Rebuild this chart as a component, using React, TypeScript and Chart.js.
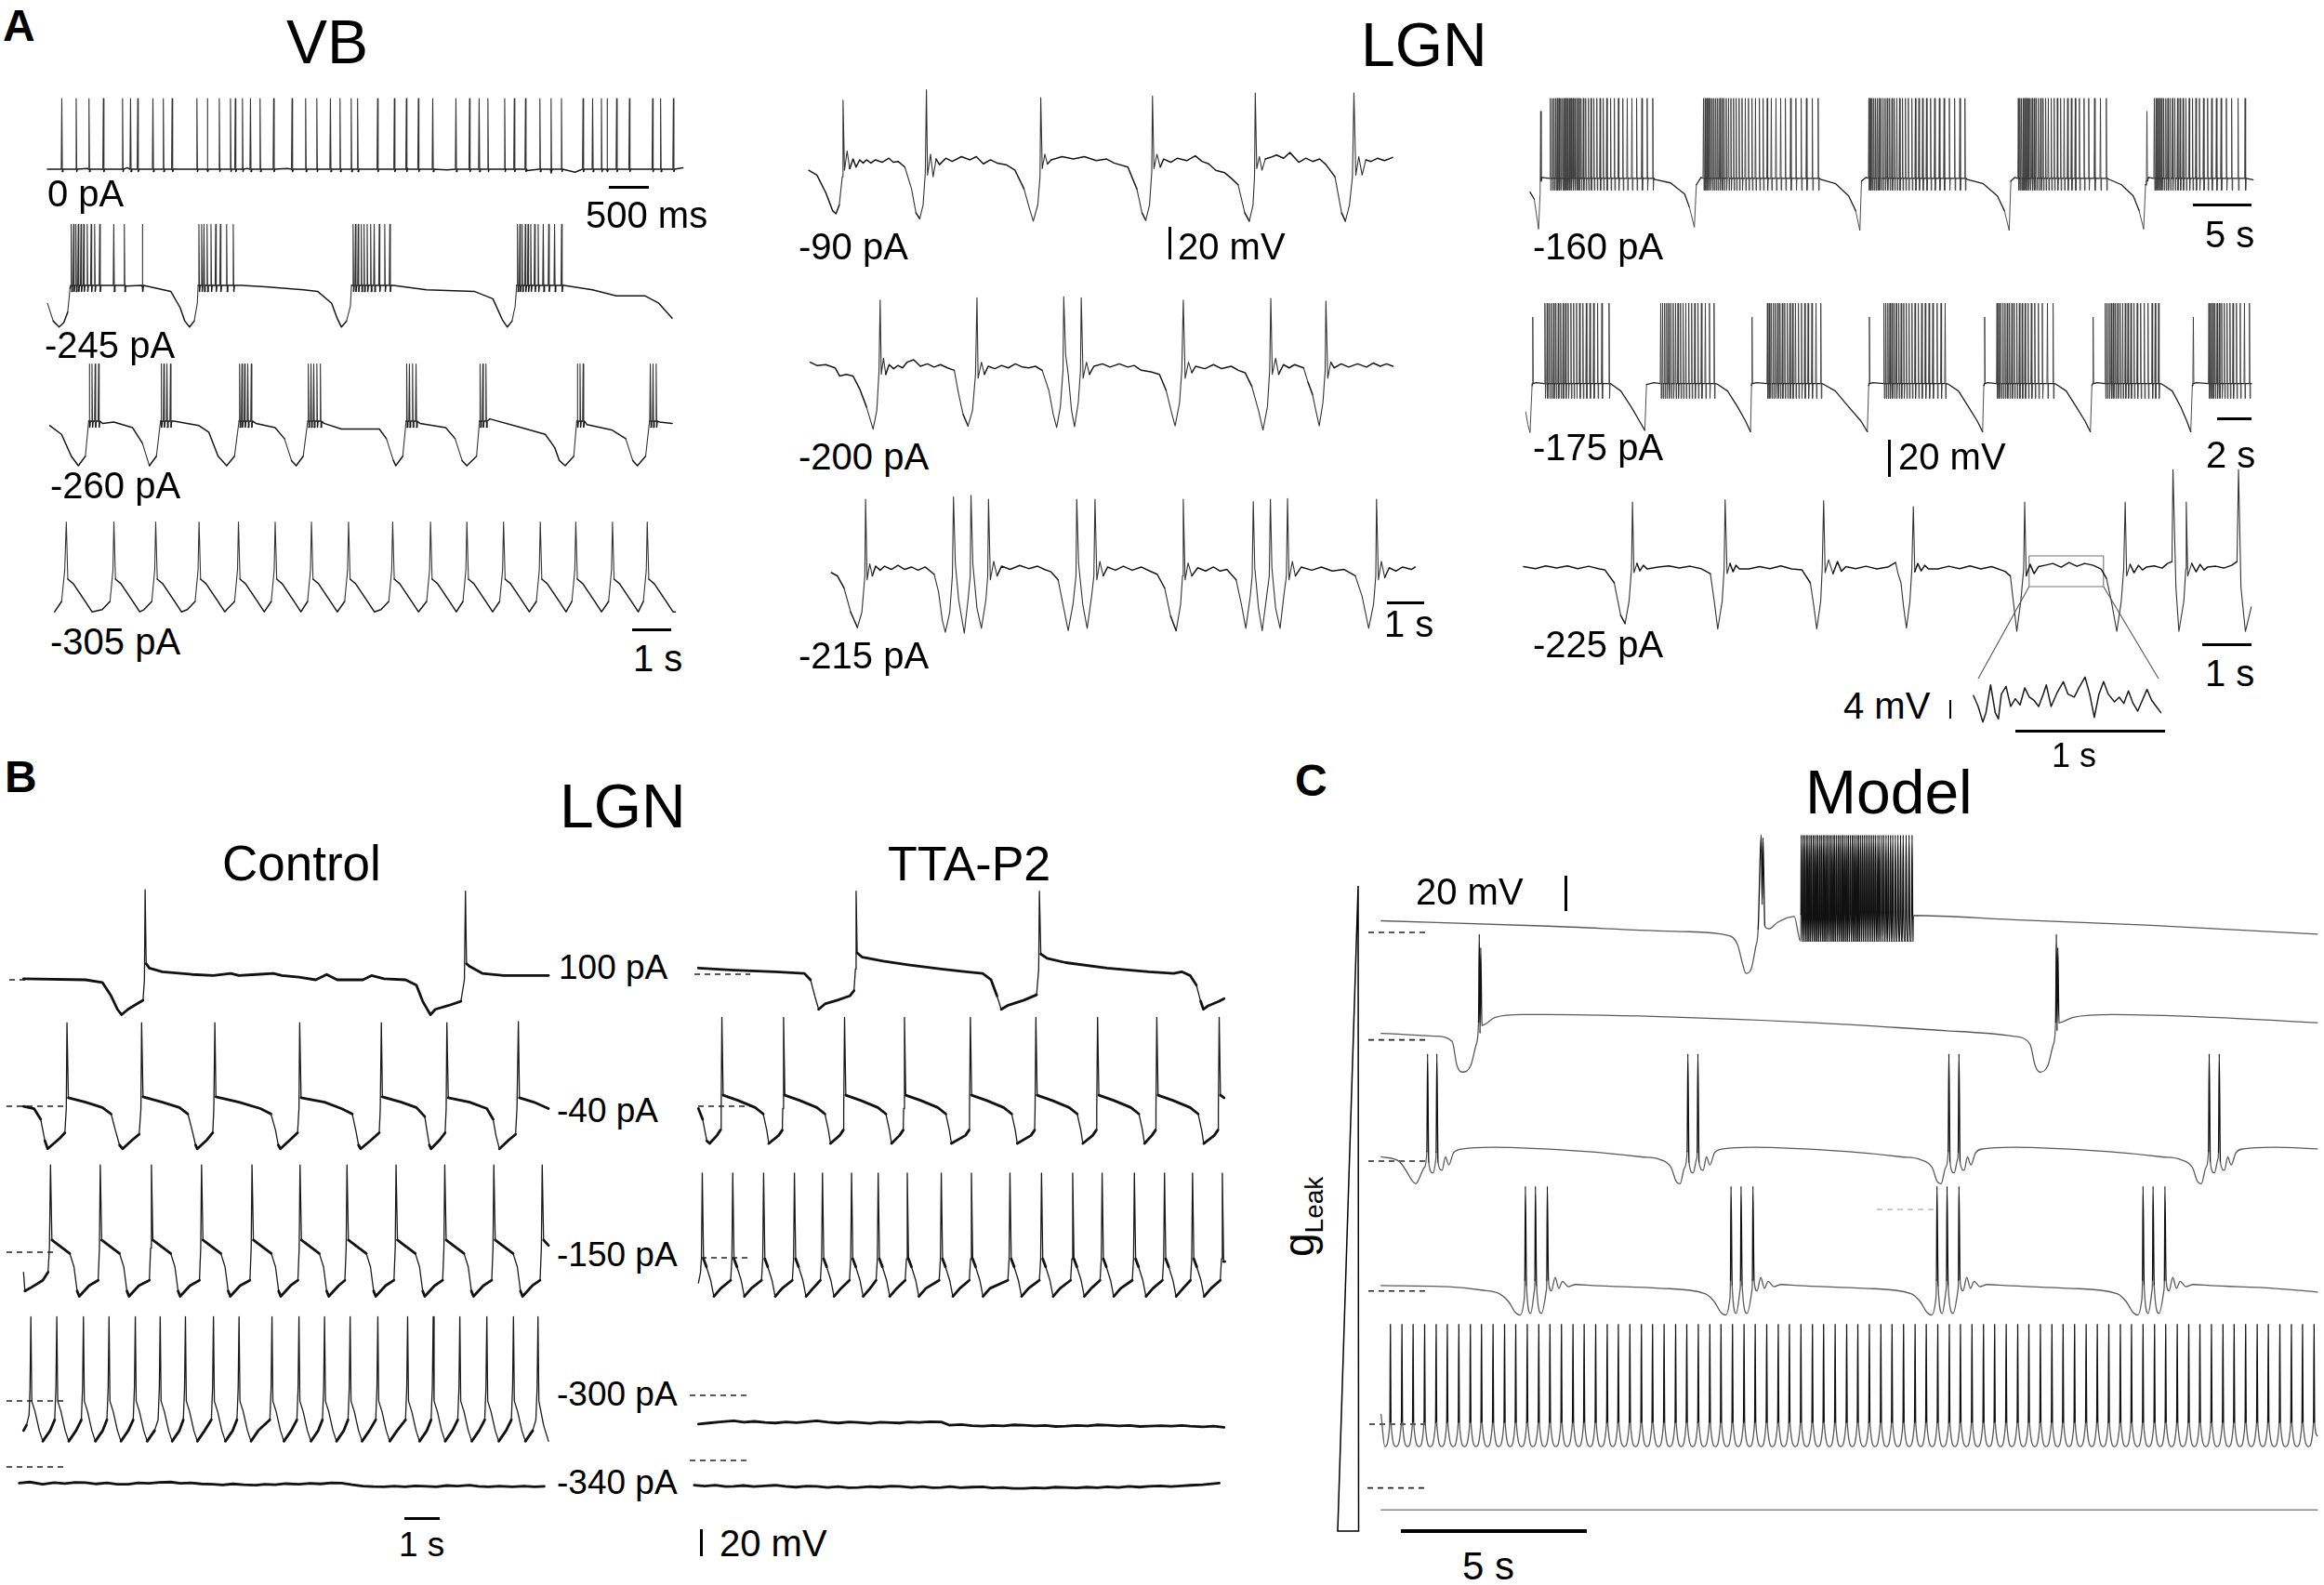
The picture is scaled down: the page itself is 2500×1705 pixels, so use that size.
import React, { useEffect, useRef } from "react";
import { Chart, registerables } from "chart.js";

Chart.register(...registerables);

const FONT = '"Liberation Sans", Arial, Helvetica, sans-serif';

// ================= DATA (time in s, membrane potential in mV) =================
// ---- Panel A, VB ----
const vb0Wave = [0,-62, 0.5,-61.5, 1.0,-61, 1.5,-62, 2.0,-62.5, 2.5,-61.5, 3.0,-61.5, 3.5,-62, 4.0,-62, 4.5,-61.5, 5.0,-62.5, 5.5,-62, 6.0,-63, 6.3,-64.5, 6.6,-64, 7.0,-63, 7.5,-62, 7.95,-61];
const vb0Spikes = [0.18,0.36,0.52,0.70,0.94,1.04,1.13,1.32,1.45,1.56,1.87,2.00,2.15,2.29,2.35,2.44,2.54,2.66,2.83,3.06,3.23,3.37,3.54,3.66,3.80,3.88,4.13,4.34,4.49,4.64,4.82,5.11,5.28,5.40,5.51,5.72,5.84,5.98,6.16,6.30,6.43,6.70,6.82,6.93,7.00,7.12,7.28,7.57,7.67,7.83];

const vb245Wave = [0,-72, 0.15,-84, 0.30,-88, 0.42,-85, 0.52,-78, 0.58,-62, 0.61,-60, 1.4,-60, 2.0,-60.5, 2.43,-61, 3.16,-64, 3.40,-75, 3.52,-84, 3.64,-88, 3.76,-84, 3.84,-72, 3.86,-60, 4.98,-60, 5.58,-61, 6.56,-63, 6.92,-64, 7.28,-72, 7.42,-82, 7.53,-88, 7.66,-84, 7.76,-74, 7.79,-60, 8.86,-60, 9.71,-63, 10.93,-64, 11.41,-69, 11.65,-83, 11.78,-88, 11.90,-84, 11.98,-74, 12.02,-60, 13.23,-60, 13.96,-63, 14.57,-67, 15.30,-67, 15.66,-72, 16.0,-82];
const vb245Spikes = [0.61,0.67,0.73,0.79,0.86,0.93,1.02,1.12,1.21,1.34,1.70,1.97,2.43, 3.88,3.95,4.01,4.09,4.19,4.31,4.43,4.59,4.76, 7.83,7.89,7.96,8.04,8.11,8.19,8.28,8.37,8.50,8.64,8.77, 12.04,12.10,12.16,12.24,12.31,12.38,12.48,12.57,12.70,12.84,12.99,13.17];

const vb260Wave = [0,-63, 0.30,-68.9, 0.55,-83.6, 0.73,-90, 0.91,-83.6, 1.01,-60, 1.35,-61.5, 1.64,-60.6, 2.12,-64.4, 2.37,-74.8, 2.55,-90, 2.73,-83.6, 2.85,-60, 3.18,-60, 3.82,-63, 4.07,-67.4, 4.31,-83.6, 4.53,-90, 4.73,-83.6, 4.86,-60, 5.28,-61.5, 5.77,-64.4, 6.01,-71.8, 6.19,-86.5, 6.31,-90, 6.49,-83.6, 6.62,-60, 7.02,-61.5, 7.47,-65.3, 8.44,-65.3, 8.62,-71.8, 8.80,-86.5, 8.86,-90, 9.04,-83.6, 9.13,-60, 9.48,-61.5, 10.14,-64.4, 10.38,-71.8, 10.56,-86.5, 10.68,-90, 10.93,-83.6, 11.01,-60, 11.27,-58.5, 12.08,-64.4, 12.69,-68.9, 12.93,-77.7, 13.05,-86.5, 13.20,-90, 13.42,-83.6, 13.51,-60, 13.76,-62.4, 14.39,-65.9, 14.75,-71.8, 14.93,-86.5, 15.05,-90, 15.26,-83.6, 15.36,-60, 15.62,-60.6, 15.94,-61.5];
const vb260Spikes = [1.01,1.08,1.16,1.25, 2.85,2.92,3.00,3.09, 4.86,4.92,4.99,5.07,5.16, 6.62,6.69,6.76,6.84,6.93, 9.14,9.21,9.29,9.38, 11.02,11.09,11.17, 13.51,13.58,13.66, 15.38,15.45,15.53];

const vb305Wave = [0,-82, 0.18,-75, 0.26,-54, 0.30,-21.6, 0.34,-60, 0.48,-63, 0.78,-74.8, 0.96,-82, 1.22,-80.5, 1.42,-75, 1.495,-54,
1.52,-21.6, 1.56,-60, 1.70,-63, 2.00,-74.8, 2.18,-82, 2.29,-80.5, 2.49,-75, 2.565,-54,
2.59,-21.6, 2.63,-60, 2.77,-63, 3.07,-74.8, 3.25,-82, 3.40,-80.5, 3.60,-75, 3.675,-54,
3.70,-21.6, 3.74,-60, 3.88,-63, 4.18,-74.8, 4.36,-82, 4.41,-80.5, 4.61,-75, 4.685,-54,
4.71,-21.6, 4.75,-60, 4.89,-63, 5.19,-74.8, 5.37,-82, 5.55,-75, 5.625,-54,
5.65,-21.6, 5.69,-60, 5.83,-63, 6.13,-74.8, 6.31,-82, 6.48,-75, 6.555,-54,
6.58,-21.6, 6.62,-60, 6.76,-63, 7.06,-74.8, 7.24,-82, 7.43,-75, 7.505,-54,
7.53,-21.6, 7.57,-60, 7.71,-63, 8.01,-74.8, 8.19,-82, 8.36,-80.5, 8.56,-75, 8.635,-54,
8.66,-21.6, 8.70,-60, 8.84,-63, 9.14,-74.8, 9.32,-82, 9.53,-75, 9.605,-54,
9.63,-21.6, 9.67,-60, 9.81,-63, 10.11,-74.8, 10.29,-82, 10.46,-75, 10.535,-54,
10.56,-21.6, 10.60,-60, 10.74,-63, 11.04,-74.8, 11.22,-82, 11.40,-75, 11.475,-54,
11.50,-21.6, 11.54,-60, 11.68,-63, 11.98,-74.8, 12.16,-82, 12.34,-75, 12.415,-54,
12.44,-21.6, 12.48,-60, 12.62,-63, 12.92,-74.8, 13.10,-82, 13.25,-75, 13.325,-54,
13.35,-21.6, 13.39,-60, 13.53,-63, 13.83,-74.8, 14.01,-82, 14.19,-75, 14.265,-54,
14.29,-21.6, 14.33,-60, 14.47,-63, 14.77,-74.8, 14.95,-82, 15.08,-75, 15.155,-54,
15.18,-21.6, 15.22,-60, 15.36,-63, 15.66,-74.8, 15.84,-82, 15.90,-82];

// ---- Panel A, LGN (middle column) ----
const lgn90Wave = [0,-66, 0.22,-69, 0.46,-80, 0.64,-91, 0.73,-93, 0.82,-87.5, 0.90,-70, 0.92,-22.5, 0.96,-66, 1.03,-54, 1.10,-65, 1.19,-59, 1.27,-64, 1.37,-59.5, 1.46,-61.5, 1.55,-59.5, 1.67,-61.5, 1.79,-59.5, 1.97,-61, 2.15,-58.5, 2.27,-61, 2.40,-60.5, 2.58,-64, 2.76,-77.5, 2.88,-92.5, 2.98,-96, 3.07,-87.5, 3.13,-67.5, 3.16,-16, 3.19,-69, 3.27,-56, 3.34,-70, 3.42,-59, 3.51,-62.5, 3.68,-58.5, 3.85,-60.5, 4.10,-57.5, 4.33,-59.5, 4.50,-57.5, 4.69,-62, 4.88,-59.5, 5.06,-61.5, 5.30,-62.5, 5.54,-66, 5.78,-77.5, 5.93,-90, 6.03,-97.5, 6.15,-87.5, 6.21,-70, 6.23,-21, 6.27,-65, 6.34,-56, 6.41,-62, 6.51,-59.5, 6.80,-57.5, 7.11,-59, 7.40,-57.5, 7.72,-60, 8.0,-59, 8.20,-61.5, 8.57,-64, 8.81,-77.5, 8.95,-92.5, 9.05,-97, 9.15,-87.5, 9.21,-67.5, 9.23,-20, 9.27,-65, 9.35,-56, 9.44,-64, 9.53,-59, 9.72,-61, 9.90,-58.5, 10.15,-60, 10.38,-57, 10.56,-60.5, 10.74,-62, 10.93,-66, 11.17,-67.5, 11.35,-71, 11.53,-75, 11.71,-92.5, 11.83,-97.5, 11.93,-87.5, 11.97,-70, 11.99,-18, 12.03,-65, 12.10,-57.5, 12.17,-66, 12.26,-59, 12.40,-58, 12.56,-56.5, 12.75,-58.5, 12.92,-55, 13.16,-61, 13.35,-58.5, 13.53,-60.5, 13.72,-59, 13.89,-62.5, 14.13,-70, 14.31,-92.5, 14.41,-97.5, 14.52,-87.5, 14.60,-70, 14.64,-18, 14.69,-69, 14.77,-57.5, 14.86,-69, 14.96,-59.5, 15.10,-60.5, 15.28,-58.5, 15.46,-60, 15.68,-58];

const lgn200Wave = [0,-57.5, 0.18,-59.5, 0.42,-59, 0.67,-61, 0.79,-66, 0.97,-65, 1.15,-66, 1.33,-74, 1.51,-85, 1.69,-99, 1.79,-87.5, 1.85,-62.5, 1.88,-19, 1.91,-65, 1.97,-55, 2.03,-65, 2.12,-59, 2.24,-61.5, 2.36,-59.5, 2.48,-61, 2.60,-57.5, 2.78,-56, 2.96,-60, 3.15,-58.5, 3.33,-60.5, 3.50,-59, 3.69,-61, 3.87,-62.5, 3.99,-77.5, 4.11,-90, 4.24,-97, 4.36,-87.5, 4.44,-65, 4.48,-17.5, 4.51,-67.5, 4.60,-57.5, 4.68,-65, 4.78,-60, 4.96,-61.5, 5.14,-59.5, 5.32,-61, 5.51,-58.5, 5.70,-60.5, 5.87,-61, 6.05,-60, 6.23,-62.5, 6.41,-75, 6.53,-90, 6.62,-98, 6.72,-85, 6.79,-62.5, 6.81,-17, 6.86,-52.5, 6.93,-65, 7.02,-87.5, 7.10,-97.5, 7.20,-82.5, 7.26,-62.5, 7.28,-17.5, 7.33,-67.5, 7.42,-57.5, 7.50,-65, 7.62,-60, 7.85,-58.5, 8.05,-60.5, 8.30,-58.5, 8.53,-60.5, 8.70,-59.5, 8.89,-62.5, 9.15,-63.5, 9.38,-65, 9.56,-75, 9.72,-90, 9.80,-97, 9.92,-82.5, 9.98,-62.5, 10.02,-19, 10.07,-67.5, 10.16,-57.5, 10.25,-64, 10.35,-60, 10.60,-61.5, 10.83,-59, 11.05,-61.5, 11.31,-60, 11.50,-62.5, 11.68,-64, 11.86,-72.5, 12.04,-87.5, 12.16,-99.5, 12.28,-85, 12.34,-62.5, 12.37,-18, 12.41,-65, 12.50,-55, 12.58,-65, 12.71,-59, 12.86,-61, 13.01,-59, 13.25,-61, 13.37,-70, 13.49,-77.5, 13.58,-87.5, 13.67,-97, 13.77,-82.5, 13.83,-62.5, 13.85,-19.5, 13.90,-67.5, 13.98,-57.5, 14.07,-61, 14.26,-58.5, 14.46,-60.5, 14.70,-58.5, 14.94,-60.5, 15.12,-58, 15.31,-60, 15.48,-58.5, 15.65,-60];

const lgn215Wave = [0,-63, 0.16,-65, 0.34,-72.5, 0.52,-87.5, 0.70,-97, 0.82,-87.5, 0.90,-65, 0.92,-17.5, 0.96,-67.5, 1.03,-57.5, 1.10,-65, 1.19,-59, 1.31,-61.5, 1.43,-59, 1.61,-61, 1.79,-58.5, 1.97,-61, 2.15,-59.5, 2.33,-61.5, 2.52,-59.5, 2.76,-64, 2.88,-75, 2.98,-92.5, 3.06,-100, 3.18,-87.5, 3.25,-65, 3.28,-16, 3.33,-57.5, 3.42,-80, 3.57,-100.5, 3.67,-80, 3.73,-65, 3.75,-15, 3.80,-57.5, 3.91,-85, 4.03,-97.5, 4.15,-80, 4.20,-65, 4.22,-17.5, 4.27,-67.5, 4.36,-56, 4.45,-65, 4.57,-59, 4.80,-61, 5.06,-58.5, 5.30,-60.5, 5.54,-59, 5.72,-61, 5.90,-62.5, 6.09,-67.5, 6.24,-85, 6.36,-99, 6.49,-82.5, 6.57,-65, 6.59,-17.5, 6.64,-57.5, 6.75,-82.5, 6.87,-97.5, 6.99,-77.5, 7.05,-65, 7.08,-17.5, 7.13,-67.5, 7.21,-56, 7.30,-65, 7.42,-59.5, 7.63,-61.5, 7.84,-59, 8.08,-61.5, 8.32,-59.5, 8.55,-62, 8.75,-64, 8.95,-72.5, 9.11,-90, 9.26,-99, 9.38,-82.5, 9.43,-65, 9.45,-17.5, 9.50,-67.5, 9.58,-57, 9.68,-65, 9.84,-60, 10.05,-62, 10.26,-59.5, 10.44,-62, 10.62,-61, 10.87,-67.5, 11.01,-82.5, 11.13,-97.5, 11.25,-77.5, 11.30,-65, 11.33,-19, 11.37,-60, 11.47,-85, 11.57,-99, 11.69,-77.5, 11.76,-65, 11.79,-17.5, 11.83,-60, 11.93,-85, 12.05,-97.5, 12.15,-77.5, 12.22,-65, 12.25,-17, 12.29,-67.5, 12.38,-56, 12.46,-65, 12.62,-59.5, 12.90,-61.5, 13.16,-59.5, 13.45,-62, 13.77,-61, 14.07,-65, 14.25,-77.5, 14.43,-97.5, 14.56,-82.5, 14.62,-65, 14.64,-17.5, 14.69,-67.5, 14.77,-56, 14.86,-66, 14.98,-60, 15.16,-62, 15.34,-59.5, 15.58,-61, 15.68,-59.5];

// ---- Panel A, LGN (right column) ----
const r160Wave = [0,-70, 0.36,-73.75, 0.73,-90, 0.86,-71, 1.0,-62, 5.0,-62.5, 10.6,-63, 12.0,-65, 13.2,-71, 13.6,-78, 14.03,-89, 14.2,-66, 14.6,-62, 20.0,-62.5, 24.8,-63, 26.1,-65.5, 27.2,-72, 27.8,-80, 28.16,-90.75, 28.3,-64, 28.7,-62, 33.0,-62.5, 37.3,-63, 38.7,-65.5, 39.9,-72, 40.5,-80, 40.91,-90.75, 41.05,-64, 41.4,-62, 45.0,-62.5, 49.4,-63, 50.5,-66, 51.5,-72, 52.0,-80, 52.39,-90, 52.55,-66, 52.8,-62, 57.0,-62.5, 61.73,-63.25];
const r160Lts = [0.91, 52.67];
const r160Bursts = [1.73,1.9,2.05,2.2,2.33,2.48,2.62,2.77,2.9,3.05,3.2,3.36,3.5,3.66,3.82,4.0,4.17,4.35,4.55,4.75,4.98,5.2,5.45,5.7,5.98,6.25,6.55,6.88,7.2,7.55,7.92,8.3,8.7,9.1,9.55,10.0,10.48,
14.81,14.95,15.1,15.25,15.4,15.55,15.7,15.86,16.02,16.2,16.38,16.56,16.75,16.95,17.15,17.38,17.6,17.85,18.1,18.38,18.65,18.95,19.25,19.58,19.9,20.25,20.6,21.0,21.4,21.8,22.25,22.7,23.15,23.6,24.1,24.6,
28.93,29.07,29.2,29.35,29.5,29.65,29.8,29.97,30.14,30.32,30.5,30.7,30.9,31.1,31.32,31.55,31.8,32.05,32.3,32.6,32.9,33.2,33.52,33.85,34.2,34.55,34.95,35.35,35.8,36.25,36.7,37.13,
41.69,41.82,41.95,42.1,42.25,42.4,42.55,42.7,42.87,43.05,43.22,43.4,43.6,43.8,44.02,44.25,44.5,44.75,45.02,45.3,45.6,45.9,46.22,46.55,46.9,47.3,47.7,48.2,48.7,49.2,
53.3,53.45,53.6,53.76,53.92,54.1,54.28,54.46,54.65,54.85,55.05,55.28,55.5,55.75,56.0,56.28,56.56,56.85,57.15,57.5,57.85,58.2,58.6,59.0,59.45,59.9,60.45,61.05];

const r175Wave = [0,-76.25, 0.12,-83, 0.25,-87.5, 0.37,-62, 0.6,-60.5, 3.0,-61, 5.0,-61.25, 5.56,-65, 6.18,-73.75, 6.65,-81.25, 6.96,-86.25, 7.06,-61.5, 7.5,-60.5, 9.5,-61, 11.2,-61.25, 11.8,-65, 12.4,-73.75, 12.85,-81.25, 13.14,-87, 13.2,-62, 13.5,-60.5, 15.5,-61, 17.4,-61.25, 18.1,-65, 18.9,-73.75, 19.6,-81.25, 19.97,-87, 20.05,-62, 20.3,-60.5, 22.5,-61, 24.7,-61.25, 25.3,-65, 25.9,-73.75, 26.4,-81.25, 26.71,-87, 26.78,-62, 27.0,-60.5, 29.0,-61, 31.0,-61.25, 31.6,-65, 32.2,-73.75, 32.7,-81.25, 33.01,-87, 33.1,-62, 33.4,-60.5, 35.5,-61, 37.2,-61.25, 37.8,-65, 38.3,-73.75, 38.65,-81.25, 38.88,-87, 38.97,-62, 39.2,-60.5, 41.0,-61, 42.43,-61];
const r175Lts = [0.41, 13.23, 20.09, 26.83, 33.17, 39.03];
const r175Bursts = [1.12,1.25,1.38,1.5,1.63,1.76,1.9,2.04,2.18,2.33,2.48,2.64,2.8,2.97,3.15,3.34,3.54,3.75,3.97,4.2,4.45,4.87,
7.89,8.0,8.12,8.24,8.36,8.49,8.62,8.76,8.9,9.05,9.2,9.36,9.53,9.7,9.88,10.07,10.27,10.5,10.74,11.01,
14.13,14.24,14.36,14.48,14.6,14.73,14.86,15.0,15.14,15.29,15.44,15.6,15.77,15.94,16.12,16.31,16.51,16.73,16.97,17.25,
20.94,21.05,21.17,21.29,21.41,21.54,21.67,21.81,21.95,22.1,22.25,22.41,22.58,22.76,22.95,23.15,23.36,23.58,23.8,24.05,24.28,24.52,
27.55,27.66,27.78,27.9,28.02,28.15,28.28,28.42,28.56,28.71,28.86,29.02,29.19,29.37,29.56,29.76,29.97,30.2,30.5,30.83,
33.88,33.99,34.11,34.23,34.35,34.48,34.61,34.75,34.9,35.05,35.21,35.38,35.56,35.75,35.95,36.16,36.38,36.62,36.8,37.0,
39.94,40.05,40.17,40.29,40.42,40.55,40.69,40.84,41.0,41.17,41.35,41.55,41.77,42.02,42.31];

const r225Wave = [0,-59.2, 0.24,-60.3, 0.45,-58.8, 0.67,-60, 0.89,-58.8, 1.10,-60.3, 1.32,-59, 1.54,-60.5, 1.65,-61, 1.84,-68, 1.97,-85.5, 2.06,-90, 2.14,-78, 2.19,-60.5, 2.21,-24.25, 2.24,-62.5, 2.30,-57.5, 2.36,-61.5, 2.43,-58.5, 2.51,-60.5, 2.73,-59.5, 2.95,-58.8, 3.16,-60, 3.38,-59, 3.60,-60.3, 3.79,-63, 3.87,-78, 3.94,-93, 4.03,-78, 4.07,-60.5, 4.09,-23, 4.13,-63, 4.19,-57.5, 4.25,-62, 4.31,-58.5, 4.38,-60.5, 4.57,-60.5, 4.79,-59.2, 5.00,-60.3, 5.22,-58.8, 5.44,-60.5, 5.65,-61, 5.82,-68, 5.89,-80.5, 5.95,-93, 6.03,-78, 6.06,-60.5, 6.09,-23.5, 6.12,-62.5, 6.19,-55.5, 6.28,-63, 6.37,-56.5, 6.45,-61.75, 6.54,-59.25, 6.74,-60.3, 6.95,-59, 7.17,-60.5, 7.39,-59.5, 7.55,-57, 7.60,-63, 7.66,-68, 7.71,-80.5, 7.77,-92.5, 7.84,-78, 7.88,-60.5, 7.91,-26.75, 7.94,-62, 8.00,-57.5, 8.07,-61.5, 8.14,-58.5, 8.22,-60.5, 8.41,-60.5, 8.63,-59, 8.85,-60.3, 9.06,-58.8, 9.28,-60.5, 9.50,-59.2, 9.77,-61.75, 9.88,-64.25, 9.94,-78, 10.01,-94.25, 10.09,-78, 10.15,-60.5, 10.17,-24.25, 10.20,-64.25, 10.28,-58, 10.36,-63, 10.45,-59.25, 10.58,-58.5, 10.74,-57.5, 10.91,-59.5, 11.07,-57, 11.23,-59, 11.39,-57.5, 11.56,-58.5, 11.72,-60.5, 11.83,-65.5, 11.93,-78, 12.04,-94.25, 12.13,-78, 12.18,-60.5, 12.21,-24.25, 12.24,-64.25, 12.31,-58, 12.39,-62.5, 12.48,-58.5, 12.56,-61, 12.64,-59.5, 12.80,-58.8, 12.96,-60, 13.07,-57.5, 13.16,-56.5, 13.18,-6.75, 13.24,-70.5, 13.30,-94.25, 13.40,-78, 13.44,-60.5, 13.45,-24.25, 13.48,-64.25, 13.56,-57.5, 13.65,-62, 13.73,-58, 13.81,-61, 13.88,-59.5, 14.05,-59, 14.21,-60, 14.37,-58.5, 14.48,-56.5, 14.51,-6.75, 14.56,-70.5, 14.65,-94.25, 14.77,-81];
const r225BoxT = [10.26, 11.77];
const r225BoxV = [-70, -53.4];

const insetWave = [0,-59.0, 0.031,-61.33, 0.062,-64.67, 0.083,-62.67, 0.114,-56.67, 0.145,-62.67, 0.166,-64.0, 0.186,-58.67, 0.217,-57.0, 0.248,-61.33, 0.279,-59.67, 0.311,-61.0, 0.342,-57.33, 0.373,-59.33, 0.404,-60, 0.435,-61.33, 0.466,-58.67, 0.486,-56.67, 0.518,-61.33, 0.559,-58.33, 0.600,-56.0, 0.631,-58.67, 0.673,-59.33, 0.704,-57.33, 0.745,-55.0, 0.776,-58.67, 0.807,-63.67, 0.838,-58.67, 0.869,-56.0, 0.900,-58.67, 0.942,-60.33, 0.973,-59.33, 1.004,-60.67, 1.035,-58.0, 1.066,-60.67, 1.097,-62.33, 1.128,-60.0, 1.159,-57.67, 1.190,-60.0, 1.221,-61.33, 1.252,-62.67];

// ---- Panel B, LGN Control ----
const ctrl100Wave = [0,-59.2, 1.77,-60, 2.25,-62, 2.50,-72, 2.68,-82, 2.80,-86, 2.98,-82, 3.23,-78, 3.41,-75.2, 3.45,-60, 3.47,7.2, 3.50,-48, 3.59,-51.2, 3.96,-54, 4.81,-56, 5.42,-56.8, 5.91,-55.2, 6.15,-56.8, 6.64,-56, 7.13,-55.2, 7.37,-56.8, 7.86,-58, 8.34,-60, 8.65,-56, 8.95,-60, 9.68,-60, 9.93,-56.8, 10.29,-59.2, 10.90,-60, 11.21,-64, 11.39,-76, 11.61,-86, 11.75,-82, 12.12,-79.2, 12.48,-76, 12.58,-60, 12.61,6, 12.64,-48, 12.73,-50, 13.09,-55.2, 13.70,-56.8, 14.31,-56.8, 14.98,-56.8];
const ctrl40Wave = [0,-60, 0.30,-61.6, 0.49,-69.6, 0.61,-85.6, 0.69,-91.6, 1.04,-83.6, 1.18,-79.6, 1.22,-61.6, 1.24,2.4, 1.28,-53.6, 1.77,-56.8, 2.25,-60.8, 2.50,-65.6, 2.62,-77.6, 2.74,-88.8, 2.83,-91.6, 3.11,-84.8, 3.30,-80.8, 3.35,-61.6, 3.37,2.4, 3.41,-52.8, 3.96,-56.8, 4.45,-60.8, 4.69,-65.6, 4.81,-77.6, 4.91,-88.8, 4.96,-91.6, 5.24,-84.8, 5.40,-79.6, 5.43,-61.6, 5.46,2.4, 5.49,-52.8, 6.15,-56.8, 6.76,-61.6, 7.06,-65.6, 7.19,-77.6, 7.27,-88.8, 7.33,-91.6, 7.61,-84.8, 7.82,-79.6, 7.86,-61.6, 7.88,2.4, 7.92,-53.6, 8.59,-56.8, 9.07,-61.6, 9.38,-65.6, 9.48,-77.6, 9.56,-88.8, 9.62,-91.6, 9.93,-84.8, 10.15,-79.6, 10.18,-61.6, 10.21,2.4, 10.24,-52.8, 10.78,-56.8, 11.21,-60.8, 11.45,-67.6, 11.51,-77.6, 11.58,-88.8, 11.63,-91.6, 11.88,-84.8, 12.03,-79.6, 12.06,-61.6, 12.08,2.4, 12.12,-53.6, 12.73,-56.8, 13.22,-61.6, 13.40,-69.6, 13.48,-81.6, 13.58,-91.6, 13.82,-85.6, 14.04,-80.8, 14.08,-61.6, 14.12,3.2, 14.15,-53.6, 14.56,-56.8, 14.98,-61.6];
const ctrl150Wave = [0,-75.2, 0.04,-89.2, 0.18,-87.2, 0.55,-81.2, 0.70,-75.2, 0.74,-57.2, 0.77,4.8,
0.81,-51.2, 1.01,-55.2, 1.32,-61.2, 1.44,-71.2, 1.53,-89.2, 1.59,-93.2, 1.87,-85.2, 2.13,-81.2, 2.166,-57.2, 2.19,4.8,
2.23,-51.2, 2.43,-55.2, 2.74,-61.2, 2.86,-71.2, 2.95,-89.2, 3.01,-93.2, 3.29,-85.2, 3.59,-81.2, 3.626,-57.2, 3.65,4.8,
3.69,-51.2, 3.89,-55.2, 4.20,-61.2, 4.32,-71.2, 4.41,-89.2, 4.47,-93.2, 4.75,-85.2, 5.02,-81.2, 5.056,-57.2, 5.08,4.8,
5.12,-51.2, 5.32,-55.2, 5.63,-61.2, 5.75,-71.2, 5.84,-89.2, 5.90,-93.2, 6.18,-85.2, 6.46,-81.2, 6.496,-57.2, 6.52,4.8,
6.56,-51.2, 6.76,-55.2, 7.07,-61.2, 7.19,-71.2, 7.28,-89.2, 7.34,-93.2, 7.62,-85.2, 7.83,-81.2, 7.866,-57.2, 7.89,4.8,
7.93,-51.2, 8.13,-55.2, 8.44,-61.2, 8.56,-71.2, 8.65,-89.2, 8.71,-93.2, 8.99,-85.2, 9.17,-81.2, 9.206,-57.2, 9.23,4.8,
9.27,-51.2, 9.47,-55.2, 9.78,-61.2, 9.90,-71.2, 9.99,-89.2, 10.05,-93.2, 10.33,-85.2, 10.57,-81.2, 10.606,-57.2, 10.63,4.8,
10.67,-51.2, 10.87,-55.2, 11.18,-61.2, 11.30,-71.2, 11.39,-89.2, 11.45,-93.2, 11.73,-85.2, 11.96,-81.2, 11.996,-57.2, 12.02,4.8,
12.06,-51.2, 12.26,-55.2, 12.57,-61.2, 12.69,-71.2, 12.78,-89.2, 12.84,-93.2, 13.12,-85.2, 13.36,-81.2, 13.396,-57.2, 13.42,4.8,
13.46,-51.2, 13.66,-55.2, 13.97,-61.2, 14.09,-71.2, 14.18,-89.2, 14.24,-93.2, 14.52,-85.2, 14.74,-81.2, 14.776,-57.2, 14.80,4.8,
14.84,-51.2, 14.98,-55.2];
const ctrl300Wave = [0,-82, 0.085,-78, 0.16,-70, 0.185,-50, 0.21,2.8,
0.235,-60, 0.33,-68, 0.45,-82, 0.55,-90, 0.76,-82, 0.89,-74, 0.925,-50, 0.95,2.8,
0.975,-60, 1.07,-68, 1.19,-82, 1.29,-90, 1.50,-82, 1.65,-74, 1.685,-50, 1.71,2.8,
1.735,-60, 1.83,-68, 1.95,-82, 2.05,-90, 2.26,-82, 2.38,-74, 2.415,-50, 2.44,2.8,
2.465,-60, 2.56,-68, 2.68,-82, 2.78,-90, 2.99,-82, 3.13,-74, 3.165,-50, 3.19,2.8,
3.215,-60, 3.31,-68, 3.43,-82, 3.53,-90, 3.74,-82, 3.84,-74, 3.875,-50, 3.90,2.8,
3.925,-60, 4.02,-68, 4.14,-82, 4.24,-90, 4.45,-82, 4.56,-74, 4.595,-50, 4.62,2.8,
4.645,-60, 4.74,-68, 4.86,-82, 4.96,-90, 5.17,-82, 5.36,-74, 5.395,-50, 5.42,2.8,
5.445,-60, 5.54,-68, 5.66,-82, 5.76,-90, 5.97,-82, 6.09,-74, 6.125,-50, 6.15,2.8,
6.175,-60, 6.27,-68, 6.39,-82, 6.49,-90, 6.70,-82, 7.03,-74, 7.065,-50, 7.09,2.8,
7.115,-60, 7.21,-68, 7.33,-82, 7.43,-90, 7.64,-82, 7.80,-74, 7.835,-50, 7.86,2.8,
7.885,-60, 7.98,-68, 8.10,-82, 8.20,-90, 8.41,-82, 8.53,-74, 8.565,-50, 8.59,2.8,
8.615,-60, 8.71,-68, 8.83,-82, 8.93,-90, 9.14,-82, 9.26,-74, 9.295,-50, 9.32,2.8,
9.345,-60, 9.44,-68, 9.56,-82, 9.66,-90, 9.87,-82, 10.05,-74, 10.085,-50, 10.11,2.8,
10.135,-60, 10.23,-68, 10.35,-82, 10.45,-90, 10.66,-82, 10.90,-74, 10.935,-50, 10.96,2.8,
10.985,-60, 11.08,-68, 11.20,-82, 11.30,-90, 11.51,-82, 11.63,-74, 11.665,-50, 11.69,2.8,
11.715,-60, 11.81,-68, 11.93,-82, 12.03,-90, 12.24,-82, 12.39,-74, 12.425,-50, 12.45,2.8,
12.475,-60, 12.57,-68, 12.69,-82, 12.79,-90, 13.00,-82, 13.16,-74, 13.195,-50, 13.22,2.8,
13.245,-60, 13.34,-68, 13.46,-82, 13.56,-90, 13.77,-82, 13.92,-74, 13.955,-50, 13.98,2.8,
14.005,-60, 14.10,-68, 14.22,-82, 14.32,-90, 14.53,-82, 14.62,-74, 14.655,-50, 14.68,2.8,
14.705,-60, 14.84,-78, 14.98,-90];
const ctrl340Wave = [0,-60, 0.3,-59.2, 0.67,-60.8, 1.0,-59.6, 1.3,-60.4, 1.6,-59.4, 1.89,-59.6, 2.2,-60.6, 2.5,-59.8, 2.8,-60.8, 3.11,-60.8, 3.4,-59.8, 3.7,-60.2, 4.0,-59.4, 4.32,-59.2, 4.6,-60.2, 4.9,-59.8, 5.2,-60.6, 5.54,-60.8, 5.8,-61.4, 6.1,-60.6, 6.4,-61.2, 6.76,-61.6, 7.0,-60.8, 7.3,-61.2, 7.6,-60.4, 7.98,-60.8, 8.3,-60.2, 8.6,-60.6, 8.9,-59.8, 9.2,-60, 9.5,-61.2, 9.8,-62.2, 10.1,-62.6, 10.41,-62.8, 10.7,-62.2, 11.0,-62.8, 11.3,-62, 11.63,-62.4, 11.9,-62.8, 12.2,-61.8, 12.5,-62.2, 12.85,-61.6, 13.1,-62.4, 13.4,-62.8, 13.7,-62.2, 14.07,-62.8, 14.4,-62.2, 14.7,-62.8, 14.98,-62.4];

// ---- Panel B, LGN TTA-P2 ----
const tta100Wave = [0,-55.2, 1.01,-56.8, 2.19,-58, 3.02,-59.2, 3.20,-64, 3.32,-76, 3.43,-86, 3.61,-82, 3.97,-79.2, 4.32,-76, 4.44,-72, 4.48,-56, 4.50,2, 4.53,-44, 4.68,-47.2, 5.27,-50, 5.98,-52.8, 6.93,-56, 7.64,-58, 8.11,-59.2, 8.35,-64, 8.52,-76, 8.64,-86, 8.82,-83.2, 9.29,-79.2, 9.65,-75.2, 9.71,-56, 9.73,2, 9.77,-44.8, 9.95,-48, 10.48,-51.2, 11.66,-55.2, 12.85,-58, 13.56,-59.2, 13.79,-58, 14.03,-60.8, 14.21,-68, 14.33,-80, 14.41,-86, 14.56,-83.2, 14.86,-80, 15.00,-78];
const tta40Wave = [0,-61.6, 0.12,-69.6, 0.24,-85.6, 0.32,-87.6, 0.53,-81.6, 0.63,-77.6, 0.65,-61.6, 0.67,6.4,
0.706,-51.6, 1.14,-55.6, 1.62,-60.8, 1.85,-65.6, 1.95,-77.6, 2.01,-87.6, 2.29,-81.6, 2.394,-77.6, 2.406,-61.6, 2.43,6.4,
2.466,-51.6, 2.90,-55.6, 3.38,-60.8, 3.61,-65.6, 3.71,-77.6, 3.77,-87.6, 4.03,-81.6, 4.134,-77.6, 4.146,-61.6, 4.17,6.4,
4.206,-51.6, 4.64,-55.6, 5.12,-60.8, 5.35,-65.6, 5.45,-77.6, 5.51,-87.6, 5.74,-81.6, 5.844,-77.6, 5.856,-61.6, 5.88,6.4,
5.916,-51.6, 6.35,-55.6, 6.83,-60.8, 7.06,-65.6, 7.16,-77.6, 7.22,-87.6, 7.62,-81.6, 7.724,-77.6, 7.736,-61.6, 7.76,6.4,
7.796,-51.6, 8.23,-55.6, 8.71,-60.8, 8.94,-65.6, 9.04,-77.6, 9.10,-87.6, 9.49,-81.6, 9.594,-77.6, 9.606,-61.6, 9.63,6.4,
9.666,-51.6, 10.10,-55.6, 10.58,-60.8, 10.81,-65.6, 10.91,-77.6, 10.97,-87.6, 11.25,-81.6, 11.354,-77.6, 11.366,-61.6, 11.39,6.4,
11.426,-51.6, 11.86,-55.6, 12.34,-60.8, 12.57,-65.6, 12.67,-77.6, 12.73,-87.6, 12.94,-81.6, 13.044,-77.6, 13.056,-61.6, 13.08,6.4,
13.116,-51.6, 13.55,-55.6, 14.03,-60.8, 14.26,-65.6, 14.36,-77.6, 14.42,-87.6, 14.72,-81.6, 14.824,-77.6, 14.836,-61.6, 14.86,6.4,
14.896,-51.6, 15.00,-53.6];
const tta150Wave = [0,-78.8, 0.06,-70.8, 0.086,-60.8, 0.11,3.2,
0.146,-60.8, 0.23,-66.8, 0.35,-76.8, 0.44,-88.8, 0.64,-82.8, 0.92,-76.8, 0.956,-60.8, 0.98,3.2,
1.016,-60.8, 1.10,-66.8, 1.22,-76.8, 1.31,-88.8, 1.51,-82.8, 1.80,-76.8, 1.836,-60.8, 1.86,3.2,
1.896,-60.8, 1.98,-66.8, 2.10,-76.8, 2.19,-88.8, 2.39,-82.8, 2.68,-76.8, 2.716,-60.8, 2.74,3.2,
2.776,-60.8, 2.86,-66.8, 2.98,-76.8, 3.07,-88.8, 3.27,-82.8, 3.48,-76.8, 3.516,-60.8, 3.54,3.2,
3.576,-60.8, 3.66,-66.8, 3.78,-76.8, 3.87,-88.8, 4.07,-82.8, 4.31,-76.8, 4.346,-60.8, 4.37,3.2,
4.406,-60.8, 4.49,-66.8, 4.61,-76.8, 4.70,-88.8, 4.90,-82.8, 5.07,-76.8, 5.106,-60.8, 5.13,3.2,
5.166,-60.8, 5.25,-66.8, 5.37,-76.8, 5.46,-88.8, 5.66,-82.8, 5.90,-76.8, 5.936,-60.8, 5.96,3.2,
5.996,-60.8, 6.08,-66.8, 6.20,-76.8, 6.29,-88.8, 6.49,-82.8, 6.87,-76.8, 6.906,-60.8, 6.93,3.2,
6.966,-60.8, 7.05,-66.8, 7.17,-76.8, 7.26,-88.8, 7.46,-82.8, 7.73,-76.8, 7.766,-60.8, 7.79,3.2,
7.826,-60.8, 7.91,-66.8, 8.03,-76.8, 8.12,-88.8, 8.32,-82.8, 8.83,-76.8, 8.866,-60.8, 8.89,3.2,
8.926,-60.8, 9.01,-66.8, 9.13,-76.8, 9.22,-88.8, 9.42,-82.8, 9.73,-76.8, 9.766,-60.8, 9.79,3.2,
9.826,-60.8, 9.91,-66.8, 10.03,-76.8, 10.12,-88.8, 10.32,-82.8, 10.62,-76.8, 10.656,-60.8, 10.68,3.2,
10.716,-60.8, 10.80,-66.8, 10.92,-76.8, 11.01,-88.8, 11.21,-82.8, 11.46,-76.8, 11.496,-60.8, 11.52,3.2,
11.556,-60.8, 11.64,-66.8, 11.76,-76.8, 11.85,-88.8, 12.05,-82.8, 12.38,-76.8, 12.416,-60.8, 12.44,3.2,
12.476,-60.8, 12.56,-66.8, 12.68,-76.8, 12.77,-88.8, 12.97,-82.8, 13.24,-76.8, 13.276,-60.8, 13.30,3.2,
13.336,-60.8, 13.42,-66.8, 13.54,-76.8, 13.63,-88.8, 13.83,-82.8, 14.04,-76.8, 14.076,-60.8, 14.10,3.2,
14.136,-60.8, 14.22,-66.8, 14.34,-76.8, 14.43,-88.8, 14.63,-82.8, 14.89,-76.8, 14.926,-60.8, 14.95,3.2,
14.986,-62.8, 15.02,-62.8];
const tta300Wave = [0,-81.2, 0.3,-80.4, 0.6,-79.6, 1.01,-78.8, 1.3,-79.8, 1.6,-79.2, 1.9,-80, 2.19,-80.4, 2.5,-79.6, 2.8,-80.2, 3.1,-79.4, 3.37,-78.8, 3.7,-79.8, 4.0,-80.4, 4.3,-79.6, 4.56,-80, 4.9,-80.6, 5.2,-79.8, 5.5,-80.2, 5.74,-80.4, 6.0,-79.6, 6.3,-80, 6.6,-79.4, 6.93,-79.6, 7.16,-82, 7.5,-81.6, 7.8,-82.4, 8.11,-82.8, 8.4,-82.2, 8.7,-82.6, 9.0,-81.8, 9.29,-82, 9.6,-82.6, 9.9,-82.2, 10.2,-83, 10.48,-82.8, 10.8,-82.2, 11.1,-82.6, 11.4,-81.8, 11.66,-82, 12.0,-82.6, 12.3,-82.2, 12.6,-83, 12.85,-82.8, 13.2,-82.4, 13.5,-82.8, 13.8,-82.2, 14.03,-82.8, 14.4,-83.2, 14.7,-82.8, 15.0,-83.6];
const tta340Wave = [0,-78.8, 0.3,-79.4, 0.6,-78.8, 0.9,-79.8, 1.12,-79.6, 1.4,-79.0, 1.7,-79.8, 2.0,-79.2, 2.31,-78.8, 2.6,-79.6, 2.9,-80.2, 3.2,-79.4, 3.49,-79.6, 3.8,-80.4, 4.1,-79.8, 4.4,-80.6, 4.68,-80.4, 5.0,-79.8, 5.3,-80.2, 5.6,-79.4, 5.86,-79.6, 6.2,-80.4, 6.5,-79.8, 6.8,-80.6, 7.04,-80.4, 7.3,-79.8, 7.6,-80.6, 7.9,-80.2, 8.23,-80, 8.5,-80.8, 8.8,-80.4, 9.1,-81.2, 9.41,-81.2, 9.7,-80.6, 10.0,-81, 10.3,-80.2, 10.6,-80.4, 10.9,-80.8, 11.2,-80.2, 11.5,-80.6, 11.78,-80, 12.1,-80.4, 12.4,-79.6, 12.7,-80.2, 12.96,-79.6, 13.3,-79.2, 13.6,-79.8, 13.9,-79.2, 14.15,-78.8, 14.5,-78.4, 14.98,-77.2];

// ---- Panel C, Model ----
const c1Wave = [0,-53.4, 4.50,-56.4, 8.07,-59.4, 9.32,-61.5, 9.59,-66.9, 9.72,-77.4, 9.81,-82.8, 9.95,-80.4, 10.07,-68.4, 10.14,-57.9, 10.22,-5.4, 10.25,-44.4, 10.27,-6.9, 10.32,-56.4, 10.43,-57.9, 10.66,-54.3, 11.11,-51, 11.29,-49.8, 14.32,-50.4, 17.0,-52.8, 20.58,-55.8, 25.18,-60.9];
const c1Tonic = [11.30,11.35,11.39,11.44,11.48,11.53,11.57,11.62,11.66,11.71,11.75,11.80,11.84,11.89,11.93,11.98,12.02,12.07,12.11,12.16,12.20,12.25,12.30,12.34,12.39,12.43,12.48,12.53,12.57,12.62,12.67,12.71,12.76,12.81,12.85,12.90,12.95,13.00,13.05,13.10,13.15,13.20,13.25,13.30,13.36,13.41,13.47,13.52,13.58,13.64,13.70,13.76,13.83,13.90,13.97,14.04,14.12,14.20,14.28];
const c2Wave = [0,-56.4, 1.46,-57.9, 1.91,-60.9, 2.04,-74.4, 2.18,-78, 2.41,-74.4, 2.56,-62.4, 2.62,-50, 2.64,-0.9, 2.66,-56.4, 2.68,-8.4, 2.71,-51.9, 3.07,-47.4, 3.79,-45.9, 4.50,-45.9, 8.07,-47.4, 11.64,-50.4, 15.22,-54.9, 17.0,-57.9, 17.45,-62.4, 17.59,-74.4, 17.72,-78, 17.93,-74.4, 18.08,-62.4, 18.14,-50, 18.16,-0.9, 18.18,-54.9, 18.20,-8.4, 18.23,-50.4, 18.61,-47.4, 19.68,-45.9, 22.36,-47.4, 25.18,-50.4];
const c3Wave = [0,-57.6, 0.48,-60, 0.71,-66.6, 0.84,-71.1, 0.93,-72.6, 1.16,-63.6, 1.23,-54.6, 1.25,0, 1.28,-60.6, 1.39,-66.6, 1.47,-59.1, 1.48,-55, 1.50,0, 1.53,-60.6, 1.64,-65.1, 1.73,-57.6, 1.82,-62.1, 1.95,-55.2, 2.2,-53.1, 3.0,-52.2, 5.5,-54.6, 7.0,-57.6, 7.5,-59.1, 7.80,-63.6, 7.93,-71.1, 8.04,-72.6, 8.16,-63.6, 8.23,-54.6, 8.25,0, 8.28,-60.6, 8.39,-66.6, 8.48,-59.1, 8.50,-55, 8.52,0, 8.55,-60.6, 8.66,-65.1, 8.75,-57.6, 8.84,-62.1, 8.97,-55.2, 9.2,-53.1, 10.0,-52.2, 12.5,-54.6, 14.0,-57.6, 14.5,-59.1, 14.82,-63.6, 14.95,-71.1, 15.06,-72.6, 15.18,-63.6, 15.25,-54.6, 15.27,0, 15.30,-60.6, 15.41,-66.6, 15.50,-59.1, 15.52,-55, 15.54,0, 15.57,-60.6, 15.68,-65.1, 15.77,-57.6, 15.86,-62.1, 15.99,-55.2, 16.2,-53.1, 17.0,-52.2, 19.5,-54.6, 21.0,-57.6, 21.5,-59.1, 21.82,-63.6, 21.95,-71.1, 22.06,-72.6, 22.18,-63.6, 22.25,-54.6, 22.27,0, 22.30,-60.6, 22.41,-66.6, 22.50,-59.1, 22.52,-55, 22.54,0, 22.57,-60.6, 22.68,-65.1, 22.77,-57.6, 22.86,-62.1, 22.99,-55.2, 23.2,-53.1, 24.0,-52.2, 25.18,-53.1];
const c4Wave = [0,-57, 1.8,-57.6, 2.7,-59.5, 3.18,-61.5, 3.43,-66, 3.61,-72, 3.74,-73.5, 3.84,-66, 3.865,-54, 3.88,-1.5, 3.91,-57, 4.02,-72.6, 4.12,-60, 4.135,-54, 4.15,-1.5, 4.18,-57, 4.31,-72.6, 4.44,-60, 4.455,-54, 4.47,-1.5, 4.50,-54, 4.58,-60, 4.68,-52.5, 4.78,-58.5, 4.88,-54.6, 5.03,-57.6, 5.23,-56.4, 5.7,-57, 7.5,-58.5, 8.71,-61.5,
8.96,-66, 9.14,-72, 9.27,-73.5, 9.37,-66, 9.395,-54, 9.41,-1.5, 9.44,-57, 9.55,-72.6, 9.65,-60, 9.665,-54, 9.68,-1.5, 9.71,-57, 9.84,-72.6, 9.97,-60, 9.985,-54, 10.0,-1.5, 10.03,-54, 10.11,-60, 10.21,-52.5, 10.31,-58.5, 10.41,-54.6, 10.56,-57.6, 10.76,-56.4, 11.2,-57, 13.0,-58.5, 14.25,-61.5,
14.50,-66, 14.68,-72, 14.81,-73.5, 14.91,-66, 14.935,-54, 14.95,-1.5, 14.98,-57, 15.09,-72.6, 15.19,-60, 15.205,-54, 15.22,-1.5, 15.25,-57, 15.38,-72.6, 15.51,-60, 15.525,-54, 15.54,-1.5, 15.57,-54, 15.65,-60, 15.75,-52.5, 15.85,-58.5, 15.95,-54.6, 16.10,-57.6, 16.30,-56.4, 16.8,-57, 18.5,-58.5, 19.79,-61.5,
20.04,-66, 20.22,-72, 20.35,-73.5, 20.45,-66, 20.475,-54, 20.49,-1.5, 20.52,-57, 20.63,-72.6, 20.73,-60, 20.745,-54, 20.76,-1.5, 20.79,-57, 20.92,-72.6, 21.05,-60, 21.065,-54, 21.08,-1.5, 21.11,-54, 21.19,-60, 21.29,-52.5, 21.39,-58.5, 21.49,-54.6, 21.64,-57.6, 21.84,-56.4, 22.3,-57, 24.0,-58.5, 25.18,-60.6];
const c5Spikes = [0.25,0.56,0.86,1.17,1.48,1.78,2.09,2.40,2.70,3.01,3.32,3.62,3.93,4.24,4.54,4.85,5.16,5.46,5.77,6.08,6.38,6.69,7.00,7.30,7.61,7.92,8.22,8.53,8.84,9.14,9.45,9.76,10.06,10.37,10.68,10.98,11.29,11.60,11.90,12.21,12.52,12.82,13.13,13.44,13.74,14.05,14.36,14.66,14.97,15.28,15.58,15.89,16.20,16.50,16.81,17.12,17.42,17.73,18.04,18.34,18.65,18.96,19.26,19.57,19.88,20.18,20.49,20.80,21.10,21.41,21.72,22.02,22.33,22.64,22.94,23.25,23.56,23.86,24.17,24.48,24.78,25.09];
const c5Troughs = [0.10,0.40,0.71,1.02,1.32,1.63,1.94,2.24,2.55,2.86,3.16,3.47,3.78,4.08,4.39,4.70,5.00,5.31,5.62,5.92,6.23,6.54,6.84,7.15,7.46,7.76,8.07,8.38,8.68,8.99,9.30,9.60,9.91,10.22,10.52,10.83,11.14,11.44,11.75,12.06,12.36,12.67,12.98,13.28,13.59,13.90,14.20,14.51,14.82,15.12,15.43,15.74,16.04,16.35,16.66,16.96,17.27,17.58,17.88,18.19,18.50,18.80,19.11,19.42,19.72,20.03,20.34,20.64,20.95,21.26,21.56,21.87,22.18,22.48,22.79,23.10,23.40,23.71,24.02,24.32,24.63,24.94];
const c5TroughLevel = -72.6;
const c6Wave = [0,-72.3, 25.18,-72.3];

// ================= RENDERING =================
type Look = { line: string; lineW: number; spike: string; spikeW: number; steepDy: number };
type Group = { times: number[]; foot: number; peak: number; ahp?: number };
type Extra = { pts: number[]; color: string; width: number };
type Spec = {
  wave: number[]; groups?: Group[];
  x0: number; pxPerS: number; yRef: number; vRef: number; pxPerMV: number;
  look: Look; smooth?: boolean; spikePx?: number;
  dashes?: any[]; extras?: Extra[];
};

const LOOK_A: Look = { line: "#161616", lineW: 1.5, spike: "#333", spikeW: 1.1, steepDy: 8 };
const LOOK_AD: Look = { line: "#1e1e1e", lineW: 1.3, spike: "#3a3a3a", spikeW: 0.9, steepDy: 8 };
const LOOK_B: Look = { line: "#111", lineW: 2.8, spike: "#1a1a1a", spikeW: 1.3, steepDy: 10 };
const LOOK_C: Look = { line: "#5a5a5a", lineW: 1.3, spike: "#111", spikeW: 1.3, steepDy: 40 };
const LOOK_C6: Look = { line: "#888", lineW: 1.4, spike: "#888", spikeW: 1.4, steepDy: 40 };

const A_MID = { pxPerS: 40.06, pxPerMV: 1.735, vRef: -60 };
const B_SC = { pxPerS: 37.7, pxPerMV: 1.443, vRef: -60 };
const C_SC = { x0: 1485.7, pxPerS: 40, pxPerMV: 1.924, vRef: -60 };
const cDash = (y: number) => [[1472, 1534, y]];

const r225Spec: Spec = { wave: r225Wave, x0: 1639, pxPerS: 53, yRef: 611.1, vRef: -60, pxPerMV: 1.99, look: LOOK_A,
  extras: [{ pts: [r225BoxT[0], r225BoxV[1], r225BoxT[1], r225BoxV[1], r225BoxT[1], r225BoxV[0], r225BoxT[0], r225BoxV[0], r225BoxT[0], r225BoxV[1]], color: "#777", width: 1.1 }] };
const insetBase = { x0: 2123, pxPerS: 161, yRef: 753.3, vRef: -60, pxPerMV: 5 };
const toPage = (s: any, t: number, v: number) => [s.x0 + t * s.pxPerS, s.yRef - (v - s.vRef) * s.pxPerMV];
const toData = (s: any, x: number, y: number) => [(x - s.x0) / s.pxPerS, s.vRef - (y - s.yRef) / s.pxPerMV];
const boxBL = toPage(r225Spec, r225BoxT[0], r225BoxV[0]);
const boxBR = toPage(r225Spec, r225BoxT[1], r225BoxV[0]);
const insetSpec: Spec = { ...insetBase, wave: insetWave, look: { line: "#1a1a1a", lineW: 1.5, spike: "#1a1a1a", spikeW: 1.5, steepDy: 999 },
  extras: [
    { pts: [...toData(insetBase, boxBL[0], boxBL[1]), ...toData(insetBase, 2128, 730)], color: "#555", width: 1.1 },
    { pts: [...toData(insetBase, boxBR[0], boxBR[1]), ...toData(insetBase, 2322, 730)], color: "#555", width: 1.1 },
  ] };

const c5Wave = [0, -54.6, ...c5Troughs.flatMap((t) => [t, c5TroughLevel]), 25.18, -66.6];

const SPECS: Spec[] = [
  { wave: vb0Wave, groups: [{ times: vb0Spikes, foot: -62, peak: -14.5, ahp: -63.5 }], x0: 51, pxPerS: 86, yRef: 182, vRef: -62, pxPerMV: 1.6, look: LOOK_A },
  { wave: vb245Wave, groups: [{ times: vb245Spikes, foot: -60, peak: -19, ahp: -64 }], x0: 51, pxPerS: 42, yRef: 307, vRef: -60, pxPerMV: 1.6, look: LOOK_A },
  { wave: vb260Wave, groups: [{ times: vb260Spikes, foot: -60, peak: -21.6, ahp: -64 }], x0: 53.6, pxPerS: 42, yRef: 453, vRef: -60, pxPerMV: 1.6, look: LOOK_A },
  { wave: vb305Wave, x0: 58.7, pxPerS: 42, yRef: 623, vRef: -60, pxPerMV: 1.6, look: LOOK_A },
  { wave: lgn90Wave, x0: 870, yRef: 172.8, ...A_MID, look: LOOK_A },
  { wave: lgn200Wave, x0: 871.5, yRef: 394, ...A_MID, look: LOOK_A },
  { wave: lgn215Wave, x0: 894.3, yRef: 610.8, ...A_MID, look: LOOK_A },
  { wave: r160Wave, groups: [{ times: r160Lts, foot: -64, peak: -26.25 }, { times: r160Bursts, foot: -62.5, peak: -19.25, ahp: -69 }], x0: 1645.9, pxPerS: 12.6, yRef: 186.8, vRef: -60, pxPerMV: 1.99, look: LOOK_AD, spikePx: 0.55 },
  { wave: r175Wave, groups: [{ times: r175Lts, foot: -61, peak: -25 }, { times: r175Bursts, foot: -61, peak: -17.5, ahp: -69 }], x0: 1641.3, pxPerS: 18.4, yRef: 410.7, vRef: -60, pxPerMV: 1.99, look: LOOK_AD, spikePx: 0.55 },
  r225Spec,
  insetSpec,
  { wave: ctrl100Wave, x0: 25.3, yRef: 1054, ...B_SC, look: LOOK_B, dashes: [[10, 28, 1054]] },
  { wave: ctrl40Wave, x0: 25.3, yRef: 1190.2, ...B_SC, look: LOOK_B, dashes: [[7, 71, 1190]] },
  { wave: ctrl150Wave, x0: 25.3, yRef: 1346.6, ...B_SC, look: LOOK_B, dashes: [[7, 60, 1347]] },
  { wave: ctrl300Wave, x0: 25.3, yRef: 1507.1, ...B_SC, look: LOOK_B, dashes: [[7, 71, 1507]] },
  { wave: ctrl340Wave, x0: 20.7, yRef: 1595.4, ...B_SC, look: LOOK_B, dashes: [[7, 71, 1578]] },
  { wave: tta100Wave, x0: 751.3, yRef: 1048.2, ...B_SC, look: LOOK_B, dashes: [[747, 807, 1048]] },
  { wave: tta40Wave, x0: 751.3, yRef: 1190.2, ...B_SC, look: LOOK_B, dashes: [[751, 807, 1190]] },
  { wave: tta150Wave, x0: 751.3, yRef: 1353, ...B_SC, look: LOOK_B, dashes: [[754, 805, 1353]] },
  { wave: tta300Wave, x0: 751.3, yRef: 1501.3, ...B_SC, look: LOOK_B, dashes: [[742, 805, 1501]] },
  { wave: tta340Wave, x0: 746.9, yRef: 1570.6, ...B_SC, look: LOOK_B, dashes: [[742, 805, 1571]] },
  { wave: c1Wave, groups: [{ times: c1Tonic, foot: -64.8, peak: -5.4 }], yRef: 1003.2, ...C_SC, look: LOOK_C, smooth: true, spikePx: 0.9, dashes: cDash(1003) },
  { wave: c2Wave, yRef: 1118.6, ...C_SC, look: LOOK_C, smooth: true, dashes: cDash(1118.6) },
  { wave: c3Wave, yRef: 1249.1, ...C_SC, look: LOOK_C, smooth: true, dashes: cDash(1249) },
  { wave: c4Wave, yRef: 1388.7, ...C_SC, look: LOOK_C, smooth: true, dashes: [[1472, 1534, 1388.7], [2019, 2084, 1301, "#bbb"]] },
  { wave: c5Wave, groups: [{ times: c5Spikes, foot: -59.1, peak: -4.2 }], yRef: 1531.9, ...C_SC, look: LOOK_C, smooth: true, spikePx: 0.6, dashes: [[1473, 1534, 1532]] },
  { wave: c6Wave, yRef: 1600.6, ...C_SC, look: LOOK_C6, dashes: [[1471, 1536, 1600.6]] },
];

function buildPoints(s: Spec) {
  const pts: { x: number; y: number }[] = [];
  for (let i = 0; i + 1 < s.wave.length; i += 2) pts.push({ x: s.wave[i], y: s.wave[i + 1] });
  const d = (s.spikePx ?? 0.6) / s.pxPerS;
  (s.groups || []).forEach((g) => {
    g.times.forEach((t) => {
      pts.push({ x: t - d, y: g.foot });
      pts.push({ x: t, y: g.peak });
      if (g.ahp !== undefined) {
        pts.push({ x: t + d, y: g.ahp });
        pts.push({ x: t + 2 * d, y: g.foot });
      } else pts.push({ x: t + d, y: g.foot });
    });
  });
  pts.sort((a, b) => a.x - b.x);
  return pts;
}

function pairs(flat: number[]) {
  const out: { x: number; y: number }[] = [];
  for (let i = 0; i + 1 < flat.length; i += 2) out.push({ x: flat[i], y: flat[i + 1] });
  return out;
}

function TraceChart({ spec }: { spec: Spec }) {
  const ref = useRef<HTMLCanvasElement | null>(null);
  const pts = buildPoints(spec);
  const dashSets = (spec.dashes || []).map((dd: any) => ({
    pts: [...toData(spec, dd[0], dd[2]), ...toData(spec, dd[1], dd[2])],
    color: dd[3] || "#222",
  }));
  const extraSets = spec.extras || [];
  let xmin = Infinity, xmax = -Infinity, ymin = Infinity, ymax = -Infinity;
  const acc = (t: number, v: number) => {
    const [px, py] = toPage(spec, t, v);
    xmin = Math.min(xmin, px); xmax = Math.max(xmax, px);
    ymin = Math.min(ymin, py); ymax = Math.max(ymax, py);
  };
  pts.forEach((p) => acc(p.x, p.y));
  dashSets.forEach((d) => { acc(d.pts[0], d.pts[1]); acc(d.pts[2], d.pts[3]); });
  extraSets.forEach((e) => { for (let i = 0; i + 1 < e.pts.length; i += 2) acc(e.pts[i], e.pts[i + 1]); });
  const pad = 6;
  const left = Math.floor(xmin - pad), top = Math.floor(ymin - pad);
  const w = Math.ceil(xmax + pad) - left, h = Math.ceil(ymax + pad) - top;
  const tMin = (left - spec.x0) / spec.pxPerS, tMax = (left + w - spec.x0) / spec.pxPerS;
  const vMax = spec.vRef + (spec.yRef - top) / spec.pxPerMV;
  const vMin = spec.vRef - (top + h - spec.yRef) / spec.pxPerMV;

  useEffect(() => {
    if (!ref.current) return;
    const look = spec.look;
    const steep = (c: any) => {
      const dx = Math.abs(c.p1.x - c.p0.x), dy = Math.abs(c.p1.y - c.p0.y);
      return dy > look.steepDy && dy > 3 * dx;
    };
    const datasets: any[] = [
      {
        data: pts, borderColor: look.line, borderWidth: look.lineW, pointRadius: 0, fill: false,
        tension: 0, cubicInterpolationMode: spec.smooth ? "monotone" : "default",
        borderJoinStyle: "round", borderCapStyle: "round",
        segment: {
          borderColor: (c: any) => (steep(c) ? look.spike : look.line),
          borderWidth: (c: any) => (steep(c) ? look.spikeW : look.lineW),
        },
      },
      ...dashSets.map((d) => ({
        data: pairs(d.pts), borderColor: d.color, borderWidth: 1.6, borderDash: [6, 5], pointRadius: 0, fill: false, tension: 0,
      })),
      ...extraSets.map((e) => ({
        data: pairs(e.pts), borderColor: e.color, borderWidth: e.width, pointRadius: 0, fill: false, tension: 0,
      })),
    ];
    const chart = new Chart(ref.current, {
      type: "line",
      data: { datasets },
      options: {
        animation: false, responsive: false, maintainAspectRatio: false, events: [],
        layout: { padding: 0 },
        plugins: { legend: { display: false }, tooltip: { enabled: false } },
        scales: {
          x: { type: "linear", display: false, min: tMin, max: tMax },
          y: { type: "linear", display: false, min: vMin, max: vMax },
        },
        elements: { point: { radius: 0 } },
      } as any,
    });
    return () => chart.destroy();
  }, []);

  return (
    <canvas ref={ref} width={w} height={h}
      style={{ position: "absolute", left, top, width: w, height: h }} />
  );
}

// ---------- text & scale bars ----------
const LABELS: any[] = [
  ["A", 3, 45, 48, true], ["VB", 308, 68, 66], ["LGN", 1464, 71, 66],
  ["0 pA", 51, 222, 40], ["500 ms", 630, 245, 40], ["-245 pA", 48, 385, 40], ["-260 pA", 54, 536, 40], ["-305 pA", 54, 704, 40], ["1 s", 681, 722, 40],
  ["-90 pA", 859, 279, 40], ["20 mV", 1267, 279, 40], ["-200 pA", 859, 505, 40], ["-215 pA", 859, 719, 40], ["1 s", 1489, 685, 40],
  ["-160 pA", 1649, 279, 40], ["5 s", 2372, 266, 40], ["-175 pA", 1649, 495, 40], ["20 mV", 2042, 505, 40], ["2 s", 2373, 503, 40],
  ["-225 pA", 1649, 707, 40], ["1 s", 2372, 738, 40], ["4 mV", 1983, 773, 40], ["1 s", 2207, 825, 36],
  ["B", 5, 853, 48, true], ["LGN", 602, 890, 66], ["Control", 239, 947, 53], ["TTA-P2", 955, 947, 52],
  ["100 pA", 601, 1053, 37], ["-40 pA", 599, 1207, 37], ["-150 pA", 599, 1362, 37], ["-300 pA", 599, 1512, 37], ["-340 pA", 599, 1607, 37],
  ["1 s", 429, 1674, 37], ["20 mV", 774, 1674, 40],
  ["C", 1393, 857, 48, true], ["Model", 1942, 875, 66], ["20 mV", 1523, 973, 40], ["5 s", 1573, 1700, 42],
];

// [x, y, length(px) from scale, thickness, vertical]
const BARS: any[] = [
  [655, 201, 0.5 * 86, 3, false],
  [680, 677, 1 * 42, 3, false],
  [1492, 648, 1 * 40.06, 3, false],
  [1258, 244, 20 * 1.735, 3, true],
  [2359, 220, 5 * 12.6, 3, false],
  [2385, 450, 2 * 18.4, 3, false],
  [2032, 473, 20 * 1.99, 3, true],
  [2369, 693, 1 * 53, 3, false],
  [2098, 753, 4 * 5, 2.5, true],
  [2168, 786, 1 * 161, 3, false],
  [435, 1633, 1 * 37.7, 3, false],
  [754, 1645, 20 * 1.443, 3, true],
  [1684, 942, 20 * 1.924, 3, true],
  [1507, 1647, 5 * 40, 4, false],
];

function Label({ t, x, y, s, b }: any) {
  return (
    <div style={{ position: "absolute", left: x, top: y - 0.8465 * s, fontFamily: FONT, fontSize: s, lineHeight: `${s}px`,
      fontWeight: b ? 700 : 400, whiteSpace: "nowrap", color: "#000" }}>{t}</div>
  );
}

export default function App() {
  return (
    <div style={{ position: "absolute", left: 0, top: 0, width: 2500, height: 1705, background: "#fff", overflow: "hidden" }}>
      {SPECS.map((s, i) => <TraceChart key={i} spec={s} />)}
      {LABELS.map((l, i) => <Label key={"l" + i} t={l[0]} x={l[1]} y={l[2]} s={l[3]} b={l[4]} />)}
      {BARS.map((b, i) => (
        <div key={"b" + i} style={{ position: "absolute", background: "#000",
          left: b[4] ? b[0] - b[3] / 2 : b[0], top: b[4] ? b[1] : b[1] - b[3] / 2,
          width: b[4] ? b[3] : b[2], height: b[4] ? b[2] : b[3] }} />
      ))}
      <svg style={{ position: "absolute", left: 1430, top: 945 }} width={40} height={710}>
        <polygon points="31,8 31.5,702 9,702" fill="#fff" stroke="#000" strokeWidth={1.5} />
      </svg>
      <div style={{ position: "absolute", left: 1374, top: 1352, transform: "rotate(-90deg)", transformOrigin: "left top",
        whiteSpace: "nowrap", fontFamily: FONT, fontSize: 46, lineHeight: "46px", color: "#000" }}>
        g<span style={{ fontSize: 28, position: "relative", top: 10 }}>Leak</span>
      </div>
    </div>
  );
}
